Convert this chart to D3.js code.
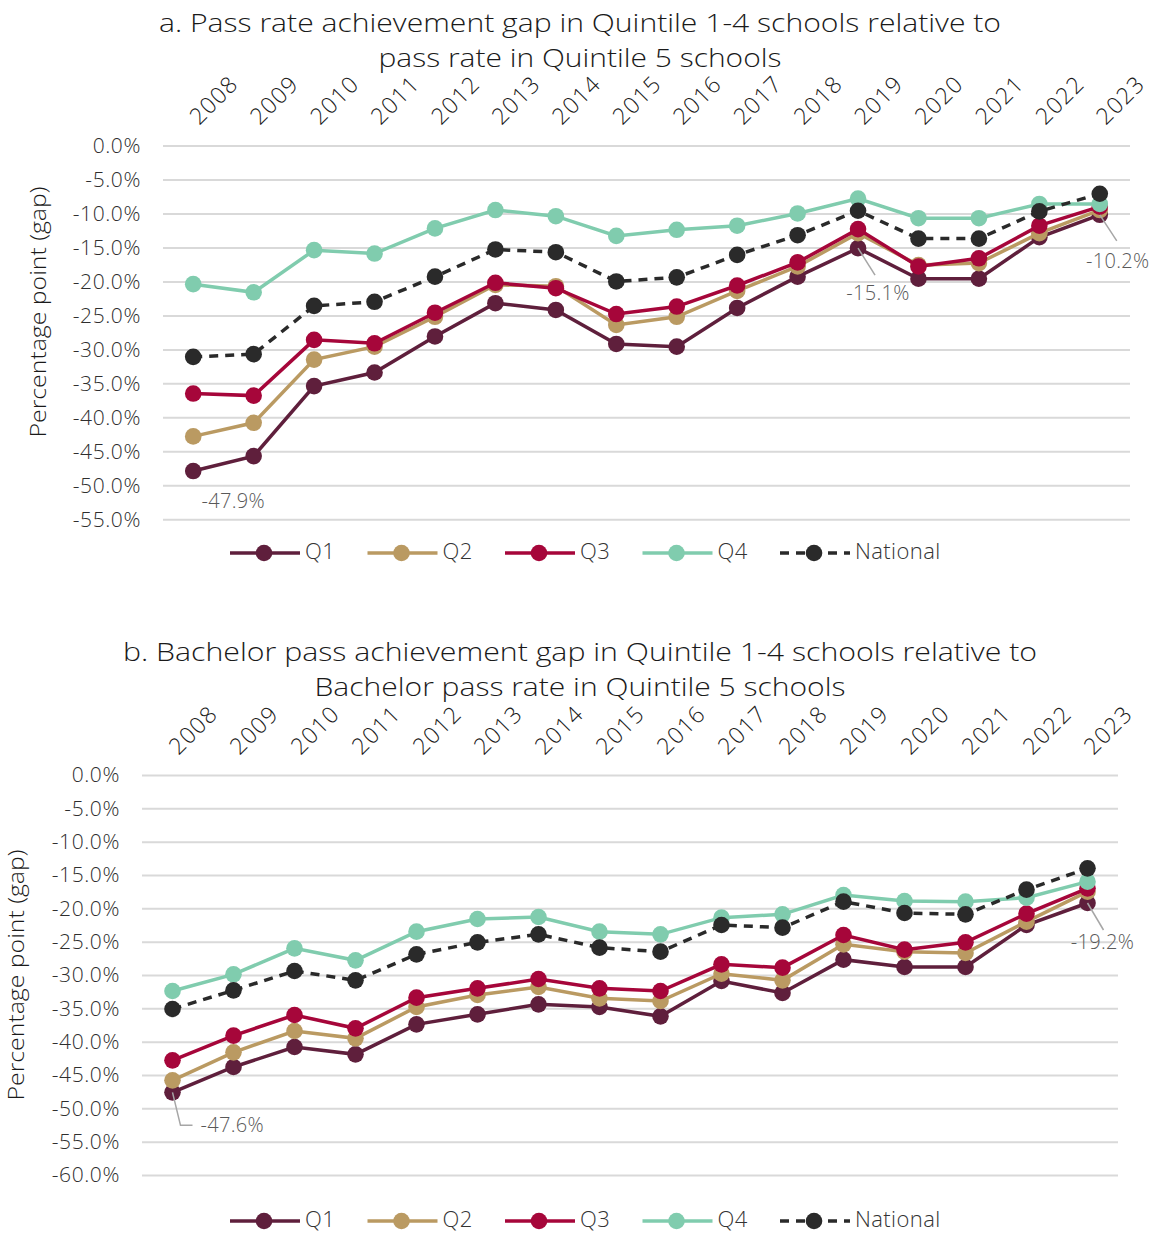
<!DOCTYPE html>
<html>
<head>
<meta charset="utf-8">
<script src="https://cdn.jsdelivr.net/npm/d3@7"></script>
<style>
  html, body { margin: 0; padding: 0; background: #fff; }
  svg { display: block; }
  text { font-family: "Open Sans", Lato, sans-serif; font-weight: 300; }
</style>
</head>
<body>
<svg id="chart" width="1158" height="1235"></svg>
<script>
// ---------- DATA ----------
const years = ["2008","2009","2010","2011","2012","2013","2014","2015","2016","2017","2018","2019","2020","2021","2022","2023"];

// Chart a: pass rate gap (percentage points)
const passQ1 = [-47.9,-45.7,-35.4,-33.4,-28.1,-23.2,-24.2,-29.2,-29.6,-23.9,-19.3,-15.1,-19.6,-19.6,-13.5,-10.2];
const passQ2 = [-42.8,-40.8,-31.5,-29.6,-25.2,-20.5,-20.7,-26.4,-25.2,-21.4,-17.8,-12.9,-17.6,-17.3,-12.9,-9.5];
const passQ3 = [-36.5,-36.8,-28.6,-29.1,-24.6,-20.2,-21.0,-24.8,-23.7,-20.6,-17.2,-12.3,-17.8,-16.6,-11.8,-9.0];
const passQ4 = [-20.4,-21.6,-15.4,-15.9,-12.2,-9.5,-10.4,-13.3,-12.4,-11.8,-10.0,-7.8,-10.7,-10.7,-8.6,-8.6];
const passNational = [-31.1,-30.7,-23.6,-23.0,-19.3,-15.3,-15.7,-20.0,-19.4,-16.1,-13.2,-9.6,-13.7,-13.7,-9.7,-7.1];

// Chart b: bachelor pass gap (percentage points)
const bachQ1 = [-47.6,-43.8,-40.8,-41.9,-37.4,-35.9,-34.4,-34.8,-36.2,-30.9,-32.7,-27.7,-28.8,-28.8,-22.5,-19.2];
const bachQ2 = [-45.8,-41.6,-38.4,-39.5,-34.8,-33.0,-31.8,-33.5,-33.9,-29.8,-30.8,-25.4,-26.5,-26.7,-22.0,-17.5];
const bachQ3 = [-42.8,-39.1,-36.0,-38.0,-33.4,-32.0,-30.6,-32.0,-32.4,-28.4,-28.9,-24.0,-26.2,-25.1,-20.8,-17.0];
const bachQ4 = [-32.4,-29.9,-26.0,-27.8,-23.5,-21.6,-21.3,-23.5,-23.9,-21.4,-20.9,-18.0,-18.9,-19.0,-18.4,-16.0];
const bachNational = [-35.1,-32.3,-29.4,-30.8,-26.9,-25.1,-23.9,-25.9,-26.5,-22.5,-22.9,-19.0,-20.7,-20.9,-17.2,-14.0];

const seriesNames = ["Q1","Q2","Q3","Q4","National"];
const yTicksA = [0,-5,-10,-15,-20,-25,-30,-35,-40,-45,-50,-55];
const yTicksB = [0,-5,-10,-15,-20,-25,-30,-35,-40,-45,-50,-55,-60];
const titleA = ["a. Pass rate achievement gap in Quintile 1-4 schools relative to", "pass rate in Quintile 5 schools"];
const titleB = ["b. Bachelor pass achievement gap in Quintile 1-4 schools relative to", "Bachelor pass rate in Quintile 5 schools"];
const yTitle = "Percentage point (gap)";

// ---------- STYLE ----------
const colors = { Q1: "#5F1F3C", Q2: "#BA9A62", Q3: "#A6063A", Q4: "#80CCAE", National: "#2A2A2A" };
const svg = d3.select("#chart");

function drawChart(cfg) {
  const g = svg.append("g");
  const x = d3.scaleBand().domain(years).range([cfg.left, cfg.right]);
  const cx = d => x(d) + x.bandwidth() / 2;
  const y = d3.scaleLinear().domain([cfg.yMin, 0]).range([cfg.bottom, cfg.top]);

  // title
  cfg.title.forEach((t, i) => {
    g.append("text").attr("x", 580).attr("y", cfg.titleY + i * 35)
      .attr("text-anchor", "middle").attr("font-size", 26).attr("fill", "#1a1a1a")
      .attr("textLength", cfg.titleLen[i]).attr("lengthAdjust", "spacingAndGlyphs")
      .text(t);
  });

  // gridlines
  const grid = g.append("g").attr("transform", `translate(${cfg.left},0)`)
    .call(d3.axisRight(y).tickValues(cfg.ticks).tickSize(cfg.right - cfg.left).tickFormat(""));
  grid.select(".domain").remove();
  grid.selectAll("line").attr("stroke", "#D9D9D9").attr("stroke-width", 2);

  // y axis labels
  const ya = g.append("g").attr("transform", `translate(${cfg.left},0)`)
    .call(d3.axisLeft(y).tickValues(cfg.ticks).tickSize(0).tickPadding(cfg.left - cfg.yLabelRight)
      .tickFormat(d => d.toFixed(1) + "%"));
  ya.select(".domain").remove();
  ya.selectAll("text").attr("font-size", 21).attr("fill", "#2e2e2e")
    .attr("font-family", "'Open Sans', sans-serif").attr("letter-spacing", 0.6);

  // x axis (top, rotated)
  const xa = g.append("g").attr("transform", `translate(0,${cfg.xAxisY})`)
    .call(d3.axisTop(x).tickSize(0).tickPadding(0));
  xa.select(".domain").remove();
  xa.selectAll("text").attr("font-size", 23).attr("fill", "#1a1a1a")
    .attr("font-family", "'Open Sans', sans-serif").attr("letter-spacing", 1.2)
    .attr("text-anchor", "start").attr("dy", 0).attr("y", 0)
    .attr("transform", "translate(6,0) rotate(-45)");

  // y title
  g.append("text").attr("transform", `translate(${cfg.yTitleX},${cfg.yTitleY}) rotate(-90)`)
    .attr("text-anchor", "middle").attr("dominant-baseline", "middle")
    .attr("font-size", 22).attr("fill", "#1a1a1a")
    .attr("textLength", 251).attr("lengthAdjust", "spacingAndGlyphs").text(yTitle);

  // series
  const line = d3.line().x((d, i) => cx(years[i])).y(d => y(d));
  cfg.series.forEach((vals, si) => {
    const name = seriesNames[si];
    g.append("path").datum(vals).attr("d", line).attr("fill", "none")
      .attr("stroke", colors[name]).attr("stroke-width", 3.5)
      .attr("stroke-dasharray", name === "National" ? "9,7" : null);
    g.append("g").selectAll("circle").data(vals).join("circle")
      .attr("cx", (d, i) => cx(years[i])).attr("cy", d => y(d)).attr("r", 8.3)
      .attr("fill", colors[name]);
  });

  // annotations
  cfg.notes.forEach(n => {
    const px = cx(years[n.i]), py = y(n.v);
    if (n.path) {
      g.append("path").attr("d", n.path(px, py)).attr("fill", "none")
        .attr("stroke", "#A6A6A6").attr("stroke-width", 1.5);
    }
    g.append("text").attr("x", px + n.dx).attr("y", py + n.dy)
      .attr("text-anchor", n.anchor || "middle").attr("dominant-baseline", "middle")
      .attr("font-size", 20).attr("fill", "#595959").attr("font-weight", 400)
      .attr("font-family", "'Liberation Sans', Arial, sans-serif").attr("letter-spacing", 0.3)
      .text(n.v.toFixed(1) + "%");
  });

  // legend
  const lg = g.append("g").attr("transform", `translate(0,${cfg.legendY})`);
  seriesNames.forEach((name, i) => {
    const x0 = 230 + i * 137.5;
    const it = lg.append("g").attr("transform", `translate(${x0},0)`);
    it.append("line").attr("x1", 0).attr("x2", 70).attr("y1", 0).attr("y2", 0)
      .attr("stroke", colors[name]).attr("stroke-width", 3.5)
      .attr("stroke-dasharray", name === "National" ? "9,7" : null);
    it.append("circle").attr("cx", 34).attr("cy", 0).attr("r", 8.3).attr("fill", colors[name]);
    it.append("text").attr("x", 75).attr("y", 0).attr("dominant-baseline", "middle")
      .attr("font-size", 22).attr("fill", "#333").attr("letter-spacing", 0.4).text(name);
  });
}

drawChart({
  title: titleA, titleY: 32, titleLen: [842, 403],
  left: 163, right: 1130, top: 145.5, bottom: 519.3, yMin: -55, ticks: yTicksA,
  yLabelRight: 141, xAxisY: 126, yTitleX: 40, yTitleY: 312, legendY: 553,
  series: [passQ1, passQ2, passQ3, passQ4, passNational],
  notes: [
    { i: 0, v: passQ1[0], dx: 40, dy: 32 },
    { i: 11, v: passQ1[11], dx: 20, dy: 47, path: (px, py) => `M${px},${py}L${px + 17},${py + 27}` },
    { i: 15, v: passQ1[15], dx: 18, dy: 48, path: (px, py) => `M${px},${py}L${px + 17},${py + 26}` }
  ]
});

drawChart({
  title: titleB, titleY: 661, titleLen: [914, 531],
  left: 142, right: 1118, top: 775, bottom: 1175, yMin: -60, ticks: yTicksB,
  yLabelRight: 120, xAxisY: 756, yTitleX: 18, yTitleY: 975, legendY: 1221,
  series: [bachQ1, bachQ2, bachQ3, bachQ4, bachNational],
  notes: [
    { i: 0, v: bachQ1[0], dx: 28, dy: 34, anchor: "start", path: (px, py) => `M${px},${py}L${px + 8},${py + 33}L${px + 20},${py + 33}` },
    { i: 15, v: bachQ1[15], dx: 15, dy: 41, path: (px, py) => `M${px},${py}L${px + 16},${py + 27}` }
  ]
});
</script>
</body>
</html>
